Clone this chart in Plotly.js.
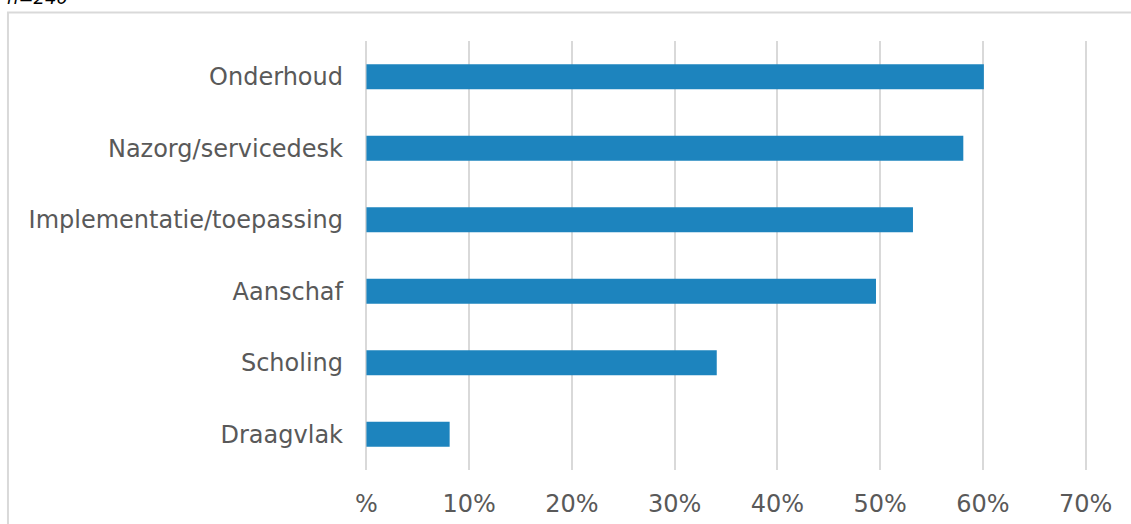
<!DOCTYPE html>
<html>
<head>
<meta charset="utf-8">
<script src="https://cdn.plot.ly/plotly-3.0.1.min.js"></script>
<style>
  html, body { margin: 0; padding: 0; background: #ffffff; }
  #chart { width: 1131px; height: 524px; }
</style>
</head>
<body>
<div id="chart"></div>
<script>
// Data (top to bottom as shown)
const categories = ["Onderhoud", "Nazorg/servicedesk", "Implementatie/toepassing", "Aanschaf", "Scholing", "Draagvlak"];
const values = [0.601, 0.581, 0.532, 0.496, 0.341, 0.081];
const tickValues = [0, 0.1, 0.2, 0.3, 0.4, 0.5, 0.6, 0.7];
const tickLabels = ["%", "10%", "20%", "30%", "40%", "50%", "60%", "70%"];
const noteText = "n=240";

const trace = {
  type: "bar",
  orientation: "h",
  x: values,
  y: categories,
  marker: { color: "#1d84be" },
  hoverinfo: "skip"
};

const layout = {
  width: 1131,
  height: 524,
  margin: { l: 365, r: 44, t: 41, b: 54, pad: 0 },
  paper_bgcolor: "#ffffff",
  plot_bgcolor: "#ffffff",
  bargap: 0.65,
  showlegend: false,
  font: { family: "DejaVu Sans, Verdana, sans-serif", size: 24, color: "#595959" },
  xaxis: {
    range: [-0.0014, 0.7014],
    tickvals: tickValues,
    ticktext: tickLabels,
    showgrid: true,
    gridcolor: "#d9d9d9",
    gridwidth: 2,
    zeroline: false,
    showline: false,
    ticks: "",
    ticklabelstandoff: 17,
    tickfont: { size: 24, color: "#595959" },
    fixedrange: true
  },
  yaxis: {
    autorange: "reversed",
    showgrid: false,
    zeroline: false,
    showline: false,
    ticks: "",
    ticklabelstandoff: 21,
    tickfont: { size: 24, color: "#595959" },
    fixedrange: true
  },
  shapes: [
    {
      type: "path",
      xref: "paper", yref: "paper",
      path: "M -0.4945,-0.3 L -0.4945,1.0664 L 1.08,1.0664",
      line: { color: "#d9d9d9", width: 2 }
    }
  ],
  annotations: [
    {
      xref: "paper", yref: "paper",
      x: -0.498, y: 1.072,
      xanchor: "left", yanchor: "bottom",
      text: "<i>" + noteText + "</i>",
      showarrow: false,
      font: { family: "DejaVu Sans, Verdana, sans-serif", size: 18, color: "#000000" }
    }
  ]
};

Plotly.newPlot("chart", [trace], layout, { displayModeBar: false, staticPlot: true });
</script>
</body>
</html>
